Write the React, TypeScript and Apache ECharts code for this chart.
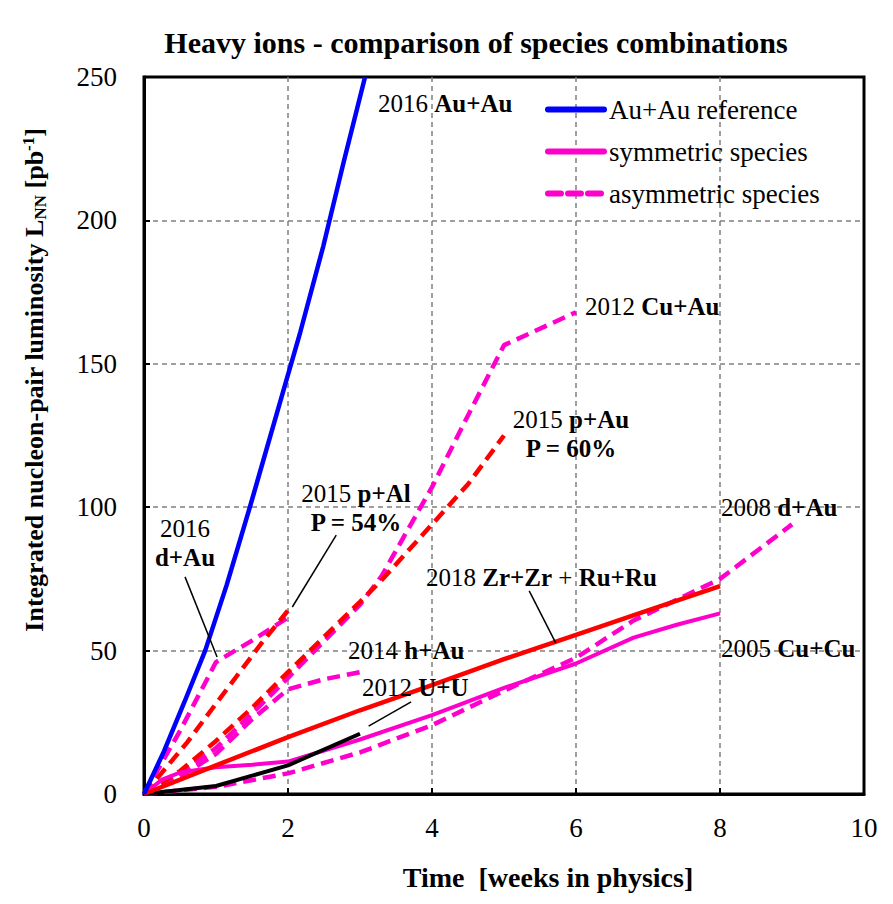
import React, { useEffect, useRef } from 'react';
import * as echarts from 'echarts';

const FONT = 'Liberation Serif';

// Tick values
const xTickMax = 10;
const xTickStep = 2;
const yTickMax = 250;
const yTickStep = 50;

// Series data: [weeks, integrated luminosity]
const auAu2016 = [[0, 0], [0.28, 15], [0.56, 32], [0.85, 50], [1.15, 73], [1.47, 100], [1.94, 141], [2.17, 161], [2.49, 191], [2.77, 220], [3.07, 250]];
const cuCu2005 = [[0, 0], [0.25, 5], [0.5, 7.5], [1, 9.3], [1.5, 10.2], [2, 11.3], [3, 19], [4, 27.5], [5, 37], [6, 45.5], [6.8, 54.5], [7.4, 59], [8, 63]];
const zrRu2018 = [[0, 0], [1, 10], [2, 19.8], [3, 29.2], [4, 38], [5, 47], [6, 55.5], [7, 64], [8, 72.5]];
const uU2012 = [[0, 0], [1, 2.8], [2, 10], [3, 21]];
const dAu2016 = [[0, 0], [0.5, 22], [1, 46], [1.5, 53.5], [2, 61.5]];
const hAu2014 = [[0, 0], [0.5, 6], [1, 14], [1.5, 26], [2, 36.5], [2.5, 40], [3, 42.5]];
const cuAu2012 = [[0, 0], [0.5, 7], [1, 16], [1.5, 28], [2, 40.5], [3, 66], [3.3, 76], [4, 107], [4.5, 132], [5, 156.5], [6, 168]];
const dAu2008 = [[0, 0], [1, 2.5], [2, 7.2], [3, 14.5], [4, 24], [5, 36], [6, 47.5], [6.8, 60.5], [7.3, 66.5], [8, 75], [9, 94]];
const pAl2015 = [[0, 0], [0.6, 18], [1, 31.5], [1.63, 52.5], [2, 64]];
const pAu2015 = [[0, 0], [0.5, 8], [1, 18.5], [1.5, 30], [2, 42.5], [3, 67], [3.28, 74], [4, 94], [4.5, 108], [5, 125]];

// Leader lines for annotations (data coordinates)
const leaderDAu2016 = [[0.57, 75.7], [1.015, 47.8]];
const leaderPAl2015 = [[2.67, 90.3], [2.06, 65.2]];
const leaderZr2018 = [[5.35, 70.8], [5.72, 52.6]];
const leaderUU2012 = [[3.71, 32.1], [3.12, 23.7]];

const legendNames = ['Au+Au reference', 'symmetric species', 'asymmetric species'];

const BLUE = '#0000FF';
const MAGENTA = '#FF00CC';
const RED = '#FF0000';
const BLACK = '#000000';
const DASH = [13, 7];

const richStyles = {
  r: { fontFamily: FONT, fontSize: 25, fill: '#000', fontWeight: 'normal' },
  b: { fontFamily: FONT, fontSize: 25, fill: '#000', fontWeight: 'bold' },
};

function label(x: number, y: number, text: string, align: string = 'left') {
  return {
    type: 'text',
    x,
    y,
    z: 100,
    silent: true,
    style: {
      text,
      rich: richStyles,
      fontFamily: FONT,
      fontSize: 25,
      fill: '#000',
      align,
      verticalAlign: 'middle',
    },
  };
}

function solid(name: string, data: number[][], color: string, width: number, z = 3) {
  return {
    type: 'line',
    name,
    data,
    symbol: 'none',
    z,
    lineStyle: { color, width, type: 'solid' },
    itemStyle: { color },
    emphasis: { disabled: true },
  };
}

function dashed(name: string, data: number[][], color: string, width: number, z = 2) {
  return {
    type: 'line',
    name,
    data,
    symbol: 'none',
    z,
    lineStyle: { color, width, type: DASH },
    itemStyle: { color },
    emphasis: { disabled: true },
  };
}

function leader(data: number[][]) {
  return {
    type: 'line',
    name: 'leader',
    data,
    symbol: 'none',
    silent: true,
    z: 5,
    lineStyle: { color: BLACK, width: 1.5 },
    emphasis: { disabled: true },
  };
}

export default function App() {
  const ref = useRef<HTMLDivElement>(null);

  useEffect(() => {
    if (!ref.current) return;
    const chart = echarts.init(ref.current, undefined, { renderer: 'svg' });
    const option = {
      animation: false,
      backgroundColor: '#ffffff',
      textStyle: { fontFamily: FONT },
      grid: {
        left: 144,
        right: 29,
        top: 77,
        bottom: 110,
        show: true,
        borderColor: '#000',
        borderWidth: 3,
        backgroundColor: 'transparent',
      },
      legend: {
        data: legendNames,
        orient: 'vertical',
        left: 545,
        top: 96,
        padding: 0,
        itemWidth: 56,
        itemHeight: 14,
        itemGap: 15,
        selectedMode: false,
        itemStyle: { opacity: 0 },
        lineStyle: { width: 6, cap: 'round' },
        textStyle: { fontFamily: FONT, fontSize: 27, color: '#000' },
      },
      xAxis: {
        type: 'value',
        min: 0,
        max: xTickMax,
        interval: xTickStep,
        axisLine: { show: true, lineStyle: { color: '#000', width: 3 } },
        axisTick: { show: true, inside: true, length: 6, lineStyle: { color: '#000', width: 2 } },
        axisLabel: { fontFamily: FONT, fontSize: 27, color: '#000', margin: 20 },
        splitLine: {
          show: true,
          showMinLine: false,
          showMaxLine: false,
          lineStyle: { color: '#808080', width: 1.5, type: [5, 4] },
        },
      },
      yAxis: {
        type: 'value',
        min: 0,
        max: yTickMax,
        interval: yTickStep,
        axisLine: { show: true, lineStyle: { color: '#000', width: 3 } },
        axisTick: { show: true, inside: true, length: 6, lineStyle: { color: '#000', width: 2 } },
        axisLabel: { fontFamily: FONT, fontSize: 27, color: '#000', margin: 27 },
        splitLine: {
          show: true,
          showMinLine: false,
          showMaxLine: false,
          lineStyle: { color: '#808080', width: 1.5, type: [5, 4] },
        },
      },
      series: [
        dashed('asymmetric species', dAu2008, MAGENTA, 4.5),
        dashed('asymmetric species', cuAu2012, MAGENTA, 4.5),
        dashed('asymmetric species', hAu2014, MAGENTA, 4.5),
        dashed('asymmetric species', dAu2016, MAGENTA, 4.5),
        dashed('2015 p+Al', pAl2015, RED, 4.5, 3),
        dashed('2015 p+Au', pAu2015, RED, 4.5, 3),
        solid('symmetric species', cuCu2005, MAGENTA, 4),
        solid('2012 U+U', uU2012, BLACK, 4),
        solid('2018 Zr+Zr + Ru+Ru', zrRu2018, RED, 4.5),
        solid('Au+Au reference', auAu2016, BLUE, 4.5, 4),
        leader(leaderDAu2016),
        leader(leaderPAl2015),
        leader(leaderZr2018),
        leader(leaderUU2012),
      ],
      graphic: [
        {
          type: 'text',
          x: 476,
          y: 42,
          silent: true,
          style: {
            text: 'Heavy ions - comparison of species combinations',
            fontFamily: FONT,
            fontWeight: 'bold',
            fontSize: 30,
            fill: '#000',
            align: 'center',
            verticalAlign: 'middle',
          },
        },
        {
          type: 'text',
          x: 548,
          y: 877,
          silent: true,
          style: {
            text: 'Time  [weeks in physics]',
            fontFamily: FONT,
            fontWeight: 'bold',
            fontSize: 28,
            fill: '#000',
            align: 'center',
            verticalAlign: 'middle',
          },
        },
        {
          type: 'text',
          x: 34,
          y: 380,
          rotation: Math.PI / 2,
          silent: true,
          style: {
            text: '{b|Integrated nucleon-pair luminosity L}{sub|NN}{b| [pb}{sup|-1}{b|]}',
            rich: {
              b: { fontFamily: FONT, fontWeight: 'bold', fontSize: 26, fill: '#000' },
              sub: { fontFamily: FONT, fontWeight: 'bold', fontSize: 17, fill: '#000', padding: [12, 0, 0, 0] },
              sup: { fontFamily: FONT, fontWeight: 'bold', fontSize: 17, fill: '#000', padding: [0, 0, 12, 0] },
            },
            fontFamily: FONT,
            fontWeight: 'bold',
            fontSize: 26,
            fill: '#000',
            align: 'center',
            verticalAlign: 'middle',
          },
        },
        label(378, 103, '{r|2016 }{b|Au+Au}'),
        label(585, 306, '{r|2012 }{b|Cu+Au}'),
        label(571, 419, '{r|2015 }{b|p+Au}', 'center'),
        label(571, 448, '{b|P = 60%}', 'center'),
        label(356, 493, '{r|2015 }{b|p+Al}', 'center'),
        label(356, 522, '{b|P = 54%}', 'center'),
        label(185, 528, '{r|2016}', 'center'),
        label(185, 557, '{b|d+Au}', 'center'),
        label(721, 507, '{r|2008 }{b|d+Au}'),
        label(426, 577, '{r|2018 }{b|Zr+Zr}{r| + }{b|Ru+Ru}'),
        label(721, 648, '{r|2005 }{b|Cu+Cu}'),
        label(348, 650, '{r|2014 }{b|h+Au}'),
        label(362, 687, '{r|2012 }{b|U+U}'),
      ],
    };
    chart.setOption(option as any);
    return () => {
      chart.dispose();
    };
  }, []);

  return (
    <div
      ref={ref}
      style={{ position: 'absolute', left: 0, top: 0, width: 893, height: 904 }}
    />
  );
}
